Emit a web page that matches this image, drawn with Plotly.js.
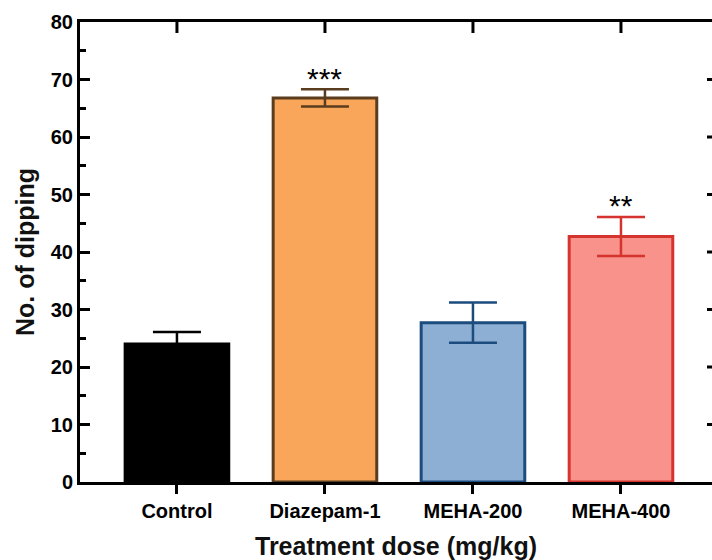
<!DOCTYPE html>
<html>
<head>
<meta charset="utf-8">
<script src="https://cdn.plot.ly/plotly-3.0.1.min.js"></script>
<style>html,body{margin:0;padding:0;overflow:hidden;background:#fff;}</style>
</head>
<body>
<div id="chart" style="width:712px;height:560px;"></div>
<script>
const categories = ["Control", "Diazepam-1", "MEHA-200", "MEHA-400"];
const means = [24.0, 66.8, 27.7, 42.7];
const sems = [2.1, 1.5, 3.5, 3.4];
const significance = ["", "***", "", "**"];
const yTicks = [0, 10, 20, 30, 40, 50, 60, 70, 80];
// ticks of the neighbouring panel's y axis, peeking in at the right edge
const rightEdgeTicks = [10, 20, 30, 40, 50, 60, 70];

const fills = ["#000000", "#F9A65A", "#8DAFD4", "#F8928B"];
const outlines = ["#000000", "#5A3C1F", "#1C4C7E", "#D4332E"];

const FONT = "Liberation Sans, Arial, Helvetica, sans-serif";
const idx = categories.map((c, i) => i);

const W = 712, H = 560, ML = 80, MR = 0, MT = 22, MB = 78;
const yRange = [0, 80];
const pxPerUnit = (H - MT - MB) / (yRange[1] - yRange[0]);

const traces = categories.map((c, i) => ({
  type: "bar",
  x: [i],
  y: [means[i]],
  width: 0.7,
  marker: { color: fills[i], line: { color: outlines[i], width: 3 } },
  error_y: { type: "data", array: [sems[i]], visible: true, color: outlines[i], thickness: 2.5, width: 24 },
  hoverinfo: "skip",
  showlegend: false
}));

const annotations = [];
categories.forEach((c, i) => {
  if (significance[i]) {
    annotations.push({
      x: i, y: means[i] + sems[i], xref: "x", yref: "y",
      text: significance[i], showarrow: false, yanchor: "middle", yshift: 11,
      font: { family: FONT, size: 30, color: "#000" }
    });
  }
});

// inward tick marks on the top frame line at each category
const shapes = [];
const topTickLen = 11 / pxPerUnit;
idx.forEach(i => {
  shapes.push({
    type: "line", xref: "x", yref: "y", layer: "above",
    x0: i, x1: i, y0: yRange[1], y1: yRange[1] - topTickLen,
    line: { color: "#000", width: 3 }
  });
});
const rightTickLen = 5 / (W - ML - MR);
rightEdgeTicks.forEach(v => {
  shapes.push({
    type: "line", xref: "paper", yref: "y", layer: "above",
    x0: 1, x1: 1 - rightTickLen, y0: v, y1: v,
    line: { color: "#000", width: 3 }
  });
});

const xrange = [-0.655, 3.615];

const layout = {
  width: W, height: H,
  margin: { l: ML, r: MR, t: MT, b: MB, pad: 0 },
  paper_bgcolor: "#fff", plot_bgcolor: "#fff",
  barmode: "overlay",
  font: { family: FONT, color: "#000" },
  xaxis: {
    range: xrange, tickvals: idx, ticktext: categories,
    showline: true, mirror: true, linecolor: "#000", linewidth: 3,
    ticks: "outside", ticklen: 9, tickwidth: 3, tickcolor: "#000",
    showgrid: false, zeroline: false,
    tickfont: { family: FONT, size: 20, color: "#000", weight: "bold" },
    title: { text: "<b>Treatment dose (mg/kg)</b>", font: { family: FONT, size: 25, color: "#111" }, standoff: 17 }
  },
  yaxis: {
    range: yRange, tickvals: yTicks,
    showline: true, linecolor: "#000", linewidth: 3,
    ticks: "inside", ticklen: 10, tickwidth: 3, tickcolor: "#000",
    minor: { dtick: 5, ticks: "inside", ticklen: 6, tickwidth: 3, tickcolor: "#000", showgrid: false },
    showgrid: false, zeroline: false,
    tickfont: { family: FONT, size: 20, color: "#000", weight: "bold" },
    title: { text: "<b>No. of dipping</b>", font: { family: FONT, size: 25, color: "#111" }, standoff: 10 }
  },
  shapes: shapes,
  annotations: annotations
};

Plotly.newPlot("chart", traces, layout, { displayModeBar: false, staticPlot: true });
</script>
</body>
</html>
